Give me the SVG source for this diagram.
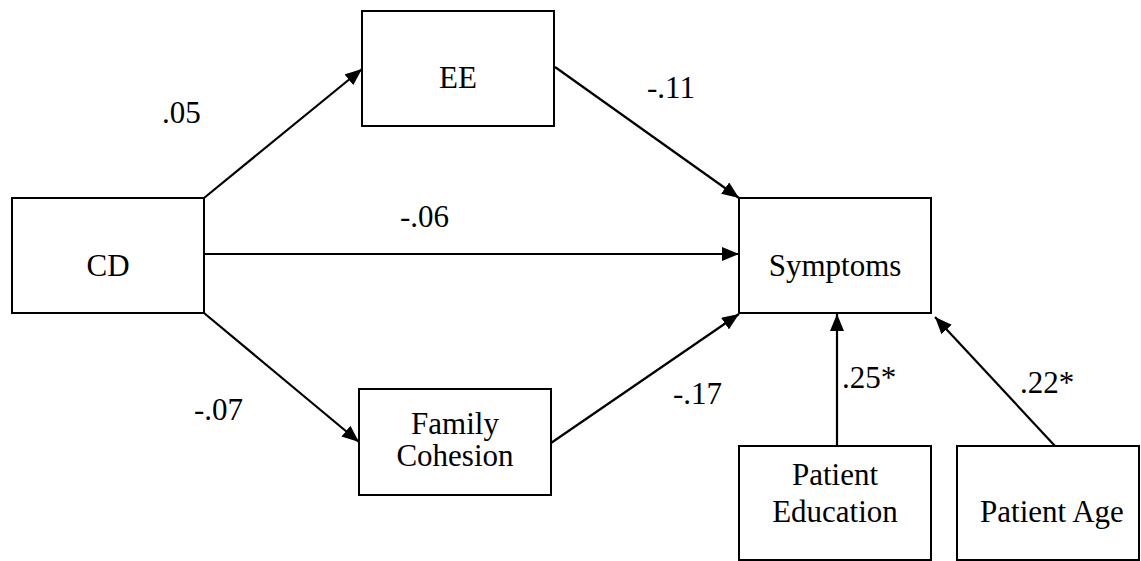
<svg xmlns="http://www.w3.org/2000/svg" width="1141" height="561" viewBox="0 0 1141 561">
<style>
rect{fill:#fff;stroke:#000;stroke-width:2}
text{font-family:Liberation Serif, serif;font-size:31px;fill:#000}
.n{text-anchor:middle}
.c line{stroke:#000;stroke-width:2.2;marker-end:url(#ah)}
</style>
<defs>
<marker id="ah" markerUnits="userSpaceOnUse" markerWidth="18" markerHeight="14" refX="17" refY="7" orient="auto"><path d="M0,0 L17,7 L0,14 z" fill="#000"/></marker>
</defs>
<rect width="1141" height="561" style="stroke:none"/>
<g id="CD"><rect x="12" y="198" width="192" height="115"/><text class="n" x="108" y="276" font-family="Liberation Serif">CD</text></g>
<g id="EE"><rect x="362" y="11" width="192" height="115"/><text class="n" x="458" y="88" font-family="Liberation Serif">EE</text></g>
<g id="FamilyCohesion"><rect x="359" y="389" width="192" height="106"/><text class="n" x="455" y="434" font-family="Liberation Serif">Family</text><text class="n" x="455" y="466" font-family="Liberation Serif">Cohesion</text></g>
<g id="Symptoms"><rect x="739" y="198" width="192" height="115"/><text class="n" x="835" y="276" font-family="Liberation Serif">Symptoms</text></g>
<g id="PatientEducation"><rect x="739" y="446" width="192" height="114"/><text class="n" x="835" y="485" font-family="Liberation Serif">Patient</text><text class="n" x="835" y="522" font-family="Liberation Serif">Education</text></g>
<g id="PatientAge"><rect x="957" y="446" width="182" height="114"/><text class="n" x="1052" y="522" font-family="Liberation Serif">Patient Age</text></g>
<g class="c" id="connectors">
<line x1="204" y1="198" x2="362" y2="69"/>
<line x1="204" y1="254" x2="739" y2="254"/>
<line x1="204" y1="313" x2="359" y2="442"/>
<line x1="555" y1="67" x2="739" y2="198"/>
<line x1="551" y1="443" x2="739" y2="314"/>
<line x1="837" y1="446" x2="837" y2="314"/>
<line x1="1055" y1="446" x2="935" y2="317"/>
</g>
<g id="labels" font-family="Liberation Serif">
<text x="162" y="123" font-family="Liberation Serif">.05</text>
<text x="647" y="98" font-family="Liberation Serif">-.11</text>
<text x="400" y="227" font-family="Liberation Serif">-.06</text>
<text x="194" y="420" font-family="Liberation Serif">-.07</text>
<text x="673" y="404" font-family="Liberation Serif">-.17</text>
<text x="842" y="388" font-family="Liberation Serif">.25*</text>
<text x="1020" y="393" font-family="Liberation Serif">.22*</text>
</g>
</svg>
